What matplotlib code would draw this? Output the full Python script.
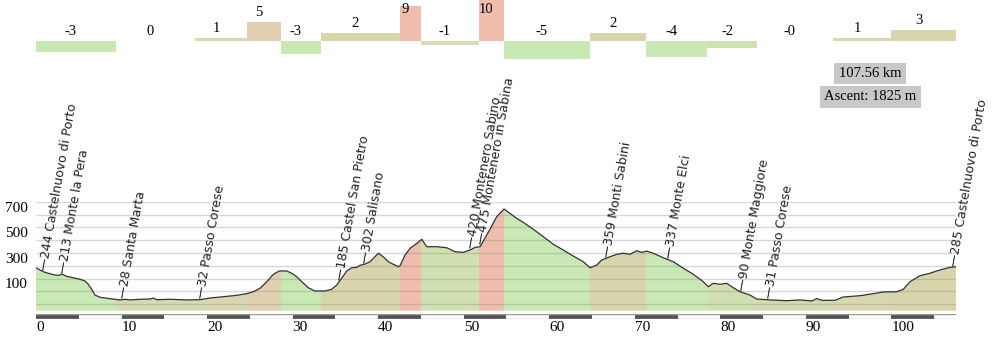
import numpy as np
import matplotlib
matplotlib.use("Agg")
import matplotlib.pyplot as plt

# ---------------- data ----------------
profile_km = [0.0, 0.47, 1.05, 1.64, 2.22, 2.72, 3.0, 3.59, 4.36, 5.14,
              5.73, 6.11, 6.51, 6.9, 7.48, 8.27, 9.24, 9.82, 10.41, 10.99,
              12.16, 13.33, 13.71, 14.11, 15.67, 17.62, 19.17, 20.34, 21.9, 23.47,
              24.63, 25.41, 26.19, 26.97, 27.75, 28.45, 29.31, 29.9, 30.48, 31.07,
              31.84, 32.62, 33.79, 34.57, 35.16, 35.74, 36.33, 36.91, 37.5, 37.88,
              38.46, 39.05, 39.63, 40.02, 40.6, 41.19, 41.77, 42.36, 42.56, 43.14,
              43.73, 44.51, 45.1, 45.68, 46.85, 48.02, 48.99, 49.96, 50.74, 51.33,
              51.91, 53.08, 53.86, 54.72, 55.42, 56.2, 56.97, 58.14, 59.31, 60.48,
              61.65, 62.82, 63.99, 64.77, 65.56, 66.14, 67.11, 67.9, 68.67, 69.45,
              70.23, 70.82, 71.4, 72.17, 73.34, 74.51, 75.68, 76.85, 78.02, 78.6,
              79.19, 79.97, 80.75, 81.53, 82.31, 83.48, 84.26, 85.82, 87.77, 89.33,
              90.7, 91.28, 91.86, 93.41, 94.39, 96.34, 97.9, 99.07, 100.63, 101.4,
              102.18, 103.35, 104.52, 105.3, 106.08, 106.86, 107.56]
profile_elev = [285, 267, 249, 238, 228, 226, 236, 218, 207, 195,
                182, 156, 117, 72, 55, 47, 39, 34, 39, 34,
                39, 41, 49, 36, 39, 34, 36, 49, 59, 70,
                83, 98, 125, 175, 234, 260, 260, 242, 215, 176,
                129, 104, 104, 117, 150, 203, 260, 285, 288, 304,
                314, 332, 371, 398, 371, 332, 312, 293, 301, 384,
                436, 475, 507, 449, 449, 441, 410, 405, 423, 444,
                449, 585, 683, 743, 709, 670, 639, 585, 527, 468,
                423, 376, 332, 285, 306, 345, 371, 390, 398, 390,
                418, 405, 415, 398, 363, 332, 281, 234, 176, 137,
                164, 156, 164, 129, 98, 72, 41, 34, 28, 34,
                26, 44, 31, 31, 57, 67, 83, 96, 98, 117,
                176, 223, 242, 260, 275, 288, 293]

seg_bounds_km = [0, 9.35, 18.6, 24.7, 28.6, 33.3, 42.6, 45.0, 51.8, 54.7,
                 64.8, 71.3, 78.5, 84.3, 93.2, 100.0, 107.56]
seg_grade = [-3.0, 0.0, 0.8, 5.1, -3.5, 2.2, 9.5, -1.2, 11.0, -5.0,
             2.2, -4.4, -1.9, -0.1, 0.8, 2.9]
seg_labels = ["-3", "0", "1", "5", "-3", "2", "9", "-1", "10", "-5",
              "2", "-4", "-2", "-0", "1", "3"]

place_km = [0.85, 3.08, 10.13, 19.25, 35.47, 38.4, 50.86, 52.03,
            66.72, 73.93, 82.5, 85.62, 107.25]
place_height = [244, 213, 28, 32, 185, 302, 420, 475, 359, 337, 90, 31, 285]
place_names = ["Castelnuovo di Porto", "Monte la Pera", "Santa Marta",
               "Passo Corese", "Castel San Pietro", "Salisano",
               "Montenero Sabino", "Montenero in Sabina", "Monti Sabini",
               "Monte Elci", "Monte Maggiore", "Passo Corese",
               "Castelnuovo di Porto"]

x_ticks = [0, 10, 20, 30, 40, 50, 60, 70, 80, 90, 100]
y_ticks = [100, 300, 500, 700]
total_text = "107.56 km"
ascent_text = "Ascent: 1825 m"

# ---------------- style ----------------
GREEN = "#c8e8b4"
LGREEN = "#d0e0b0"
KHAKI = "#d5dbb0"
TAN1 = "#d8d8b0"
TAN2 = "#d8d4ac"
BEIGE = "#e0d0b0"
SALMON = "#f0bcac"
seg_colors = [GREEN, KHAKI, TAN1, BEIGE, GREEN, TAN2, SALMON, LGREEN, SALMON,
              GREEN, TAN2, GREEN, LGREEN, KHAKI, TAN1, TAN2]

SERIF = ["Liberation Serif", "DejaVu Serif"]
SANS = ["DejaVu Sans"]

W, H = 992, 351
fig = plt.figure(figsize=(W / 100, H / 100), dpi=100)
fig.patch.set_facecolor("white")

XMAX = profile_km[-1]


def ax_px(x0, y0, x1, y1):
    return fig.add_axes([x0 / W, 1 - y1 / H, (x1 - x0) / W, (y1 - y0) / H])


# ---------------- profile ----------------
ax = ax_px(36, 201.7, 956, 310.7)
ax.set_xlim(0, XMAX)
ax.set_ylim(-50, 800)
ax.patch.set_alpha(0)
for s in ax.spines.values():
    s.set_visible(False)
ax.set_xticks([])
ax.set_yticks(y_ticks)
ax.set_yticklabels([str(v) for v in y_ticks], fontfamily=SERIF, fontsize=11)
ax.tick_params(axis="y", length=0, pad=6)
for lbl in ax.get_yticklabels():
    lbl.set_va("bottom")

poly = ax.fill_between(profile_km, -50, profile_elev, color="none", lw=0)
clip = poly.get_paths()[0]
for i in range(len(seg_grade)):
    span = ax.axvspan(seg_bounds_km[i], seg_bounds_km[i + 1], color=seg_colors[i],
                      lw=0, zorder=1)
    span.set_clip_path(clip, ax.transData)

ax.hlines(np.arange(0, 801, 100), 0, XMAX, colors="#8a8a8a", alpha=0.35, lw=1, zorder=2)
ax.plot(profile_km, profile_elev, color="#333333", lw=0.9, zorder=3)

for km, h, name in zip(place_km, place_height, place_names):
    y = np.interp(km, profile_km, profile_elev) + 8
    ax.text(km, y, "\u2014%d %s" % (h, name), rotation=80, rotation_mode="anchor",
            ha="left", va="center", fontsize=9, fontfamily=SANS, color="#222222",
            clip_on=False, zorder=4)

# ---------------- gradient bars ----------------
axg = ax_px(36, 0, 956, 70)
axg.set_xlim(0, XMAX)
axg.set_ylim(-7.98, 11.09)
axg.axis("off")
lefts = seg_bounds_km[:-1]
widths = np.diff(seg_bounds_km)
axg.bar(lefts, seg_grade, width=widths, align="edge", color=seg_colors, lw=0)
for i, lab in enumerate(seg_labels):
    top = max(seg_grade[i], 0)
    ly = min(top + 1.55, 7.65)
    xc = (seg_bounds_km[i] + seg_bounds_km[i + 1]) / 2 - 0.6
    axg.text(xc, ly, lab, ha="center", va="baseline", fontsize=10.5,
             fontfamily=SERIF, color="black")

# ---------------- distance scale ----------------
axs = ax_px(36, 313.5, 956, 318.5)
axs.set_xlim(0, XMAX)
axs.set_ylim(0, 1)
for s in axs.spines.values():
    s.set_visible(False)
starts = np.arange(0, XMAX, 5)
axs.bar(starts, 1, width=5, align="edge",
        color=["#555555" if k % 2 == 0 else "white" for k in range(len(starts))], lw=0)
axs.axhline(0, color="#9a9a9a", lw=1)
axs.axhline(1, color="#9a9a9a", lw=1)
axs.set_yticks([])
axs.set_xticks(x_ticks)
axs.set_xticklabels([str(v) for v in x_ticks], fontfamily=SERIF, fontsize=11, ha="left")
axs.tick_params(axis="x", length=0, pad=2)

# ---------------- stats boxes ----------------
fig.text(870 / W, 1 - 73.5 / H, total_text, ha="center", va="center", fontsize=10.5,
         fontfamily=SERIF, bbox=dict(boxstyle="square,pad=0.3", fc="#c8c8c8", ec="none"))
fig.text(870 / W, 1 - 97 / H, ascent_text, ha="center", va="center", fontsize=10.5,
         fontfamily=SERIF, bbox=dict(boxstyle="square,pad=0.3", fc="#c8c8c8", ec="none"))

fig.savefig("out.png", dpi=100, facecolor="white")
